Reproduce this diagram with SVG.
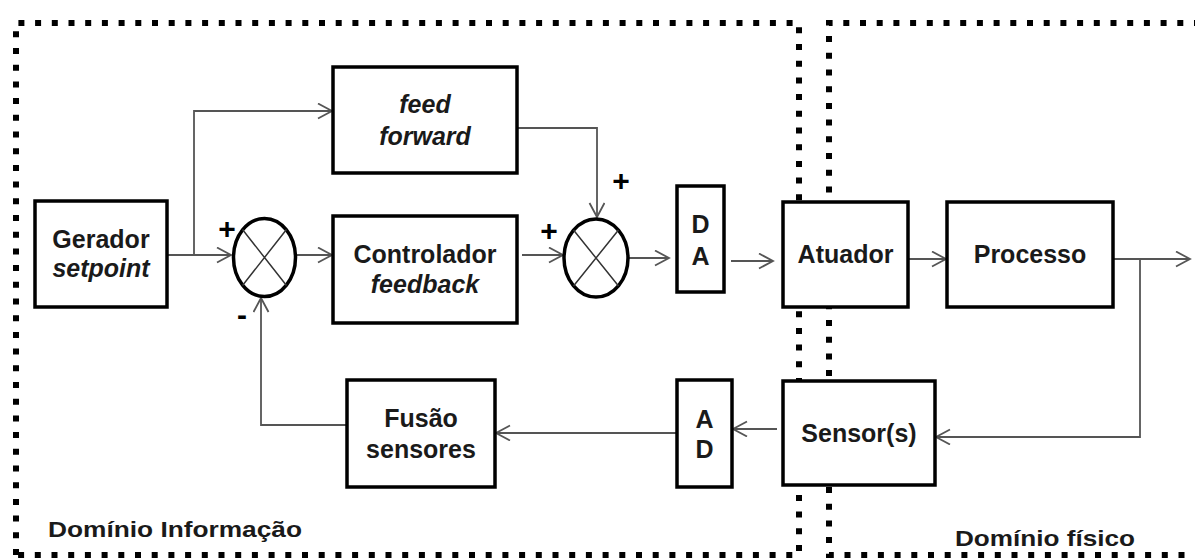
<svg xmlns="http://www.w3.org/2000/svg" width="1195" height="558" viewBox="0 0 1195 558">
<style>
.dom{fill:none;stroke:#000;stroke-width:6;stroke-dasharray:6 10.7}
.box{fill:#fff;stroke:#000;stroke-width:3.5}
.sum{fill:#fff;stroke:#000;stroke-width:3.5}
.x{stroke:#333;stroke-width:1.5}
.t{font-family:"Liberation Sans",Arial,sans-serif;font-weight:bold;font-size:25px;fill:#1a1a1a;text-anchor:middle}
.i{font-style:italic}
.lbl{font-family:"Liberation Sans",Arial,sans-serif;font-weight:bold;font-size:22px;fill:#1a1a1a}
.sg{font-family:"Liberation Sans",Arial,sans-serif;font-weight:bold;font-size:30px;fill:#000;text-anchor:middle}
.c{fill:none;stroke:#555;stroke-width:1.8}
</style>
<defs>
<marker id="arr" markerUnits="userSpaceOnUse" markerWidth="18" markerHeight="18" refX="15" refY="8" orient="auto">
<path d="M1,0.5 L15,8 L1,15.5" fill="none" stroke="#555" stroke-width="1.8"/>
</marker>
</defs>
<g id="domains">
<path class="dom" d="M16,555 V23 H799 V555 H16"/>
<path class="dom" d="M1200,23 H829 V555 H1200"/>
</g>
<g id="connectors">
<path class="c" d="M167,255 H231" marker-end="url(#arr)"/>
<path class="c" d="M194,255 V111 H332" marker-end="url(#arr)"/>
<path class="c" d="M296,255 H332" marker-end="url(#arr)"/>
<path class="c" d="M517,128 H597 V217" marker-end="url(#arr)"/>
<path class="c" d="M522,255 H563" marker-end="url(#arr)"/>
<path class="c" d="M628,258 H669" marker-end="url(#arr)"/>
<path class="c" d="M731,261 H773" marker-end="url(#arr)"/>
<path class="c" d="M908,259 H946" marker-end="url(#arr)"/>
<path class="c" d="M1113,259 H1190" marker-end="url(#arr)"/>
<path class="c" d="M1140,259 V437 H936" marker-end="url(#arr)"/>
<path class="c" d="M777,429 H733" marker-end="url(#arr)"/>
<path class="c" d="M677,433 H496" marker-end="url(#arr)"/>
<path class="c" d="M347,425 H261 V298" marker-end="url(#arr)"/>
</g>
<g id="gerador">
<rect class="box" x="35" y="201" width="132" height="106"/>
<text class="t" x="101" y="248">Gerador</text>
<text class="t i" x="101" y="277">setpoint</text>
</g>
<g id="feedforward">
<rect class="box" x="333" y="67" width="184" height="106"/>
<text class="t i" x="425" y="113">feed</text>
<text class="t i" x="425" y="145">forward</text>
</g>
<g id="somador1">
<ellipse class="sum" cx="264.5" cy="257.5" rx="31" ry="39"/>
<path class="x" d="M242.5,229.5 L286.5,285.5 M286.5,229.5 L242.5,285.5"/>
<text class="sg" x="227" y="239">+</text>
<text class="sg" x="242" y="325">-</text>
</g>
<g id="controlador">
<rect class="box" x="333" y="216" width="184" height="107"/>
<text class="t" x="425" y="263">Controlador</text>
<text class="t i" x="425" y="293">feedback</text>
</g>
<g id="somador2">
<ellipse class="sum" cx="596" cy="258" rx="32" ry="39"/>
<path class="x" d="M573.5,230 L618.5,286 M618.5,230 L573.5,286"/>
<text class="sg" x="549" y="241">+</text>
<text class="sg" x="621" y="191">+</text>
</g>
<g id="da">
<rect class="box" x="677" y="186" width="47" height="106"/>
<text class="t" x="700.5" y="233">D</text>
<text class="t" x="700.5" y="265">A</text>
</g>
<g id="atuador">
<rect class="box" x="783" y="202" width="125" height="105"/>
<text class="t" x="845.5" y="263">Atuador</text>
</g>
<g id="processo">
<rect class="box" x="947" y="202" width="166" height="105"/>
<text class="t" x="1030" y="263">Processo</text>
</g>
<g id="sensores">
<rect class="box" x="783" y="381" width="152" height="104"/>
<text class="t" x="859" y="442">Sensor(s)</text>
</g>
<g id="ad">
<rect class="box" x="677" y="380" width="55" height="107"/>
<text class="t" x="704.5" y="428">A</text>
<text class="t" x="704.5" y="458">D</text>
</g>
<g id="fusao">
<rect class="box" x="347" y="380" width="148" height="107"/>
<text class="t" x="421" y="427">Fusão</text>
<text class="t" x="421" y="458">sensores</text>
</g>
<g id="labels">
<text class="lbl" x="48" y="537" textLength="254" lengthAdjust="spacingAndGlyphs">Domínio Informação</text>
<text class="lbl" x="955" y="546" textLength="180" lengthAdjust="spacingAndGlyphs">Domínio físico</text>
</g>
</svg>
